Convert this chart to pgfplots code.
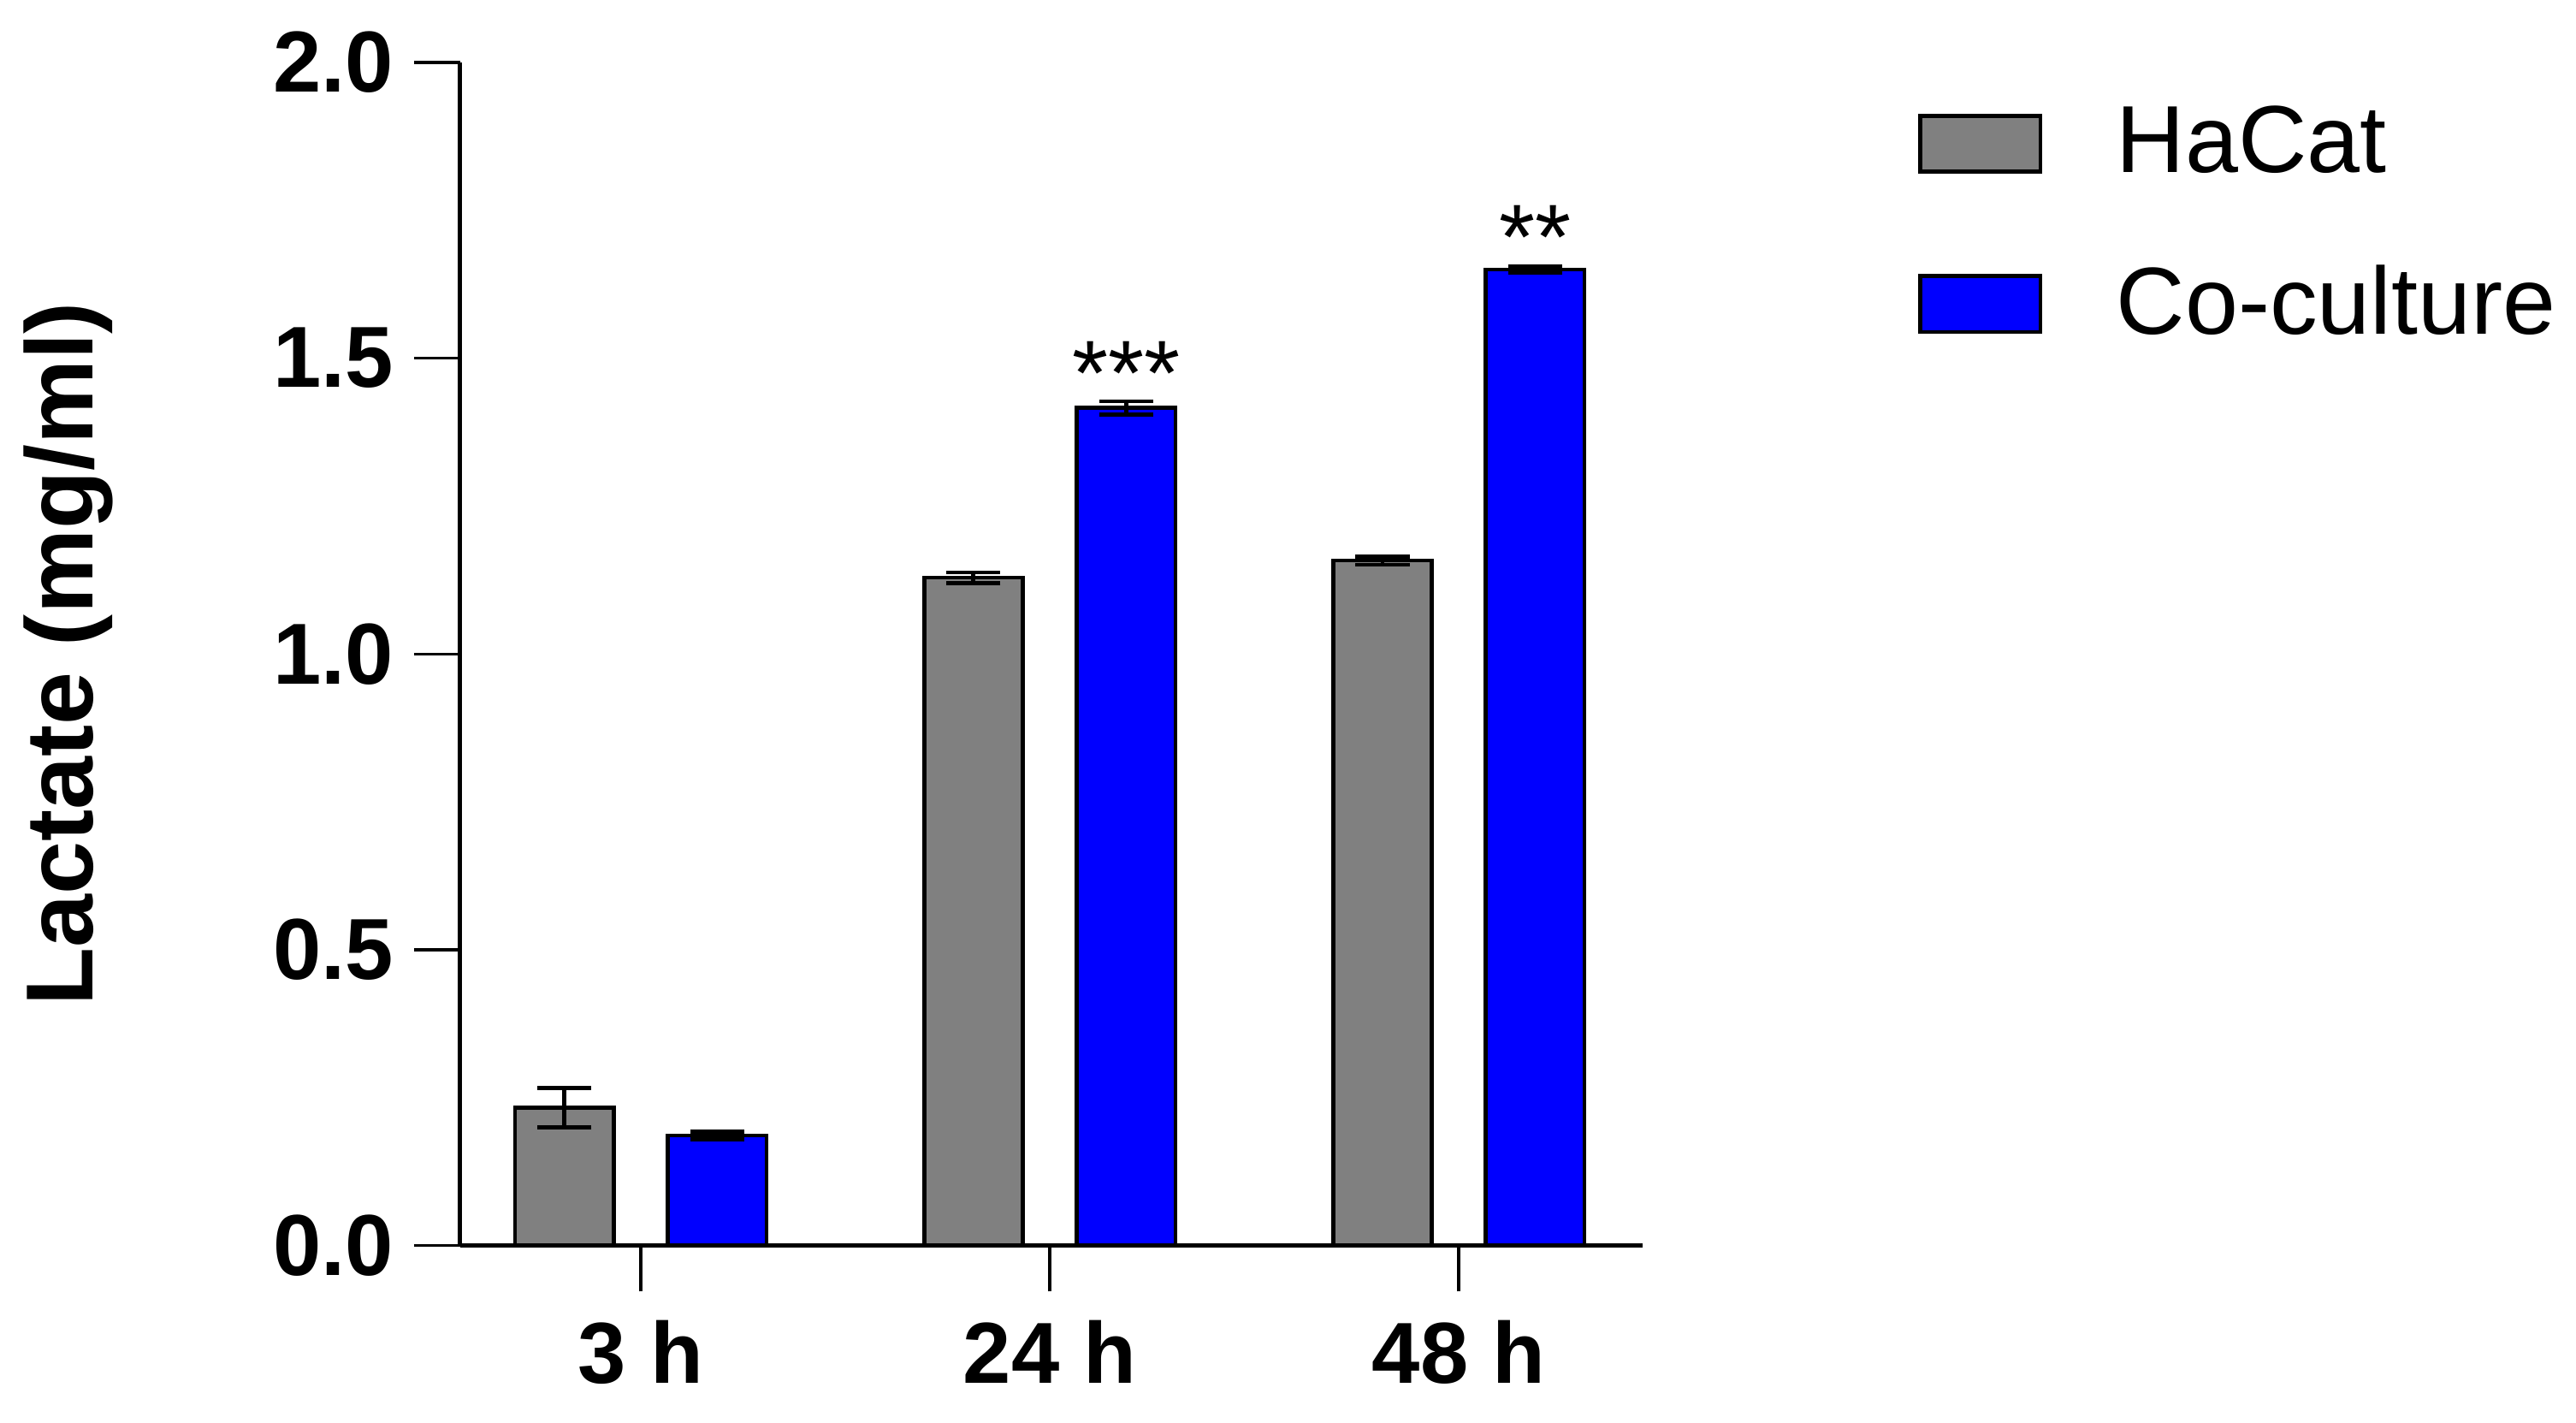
\documentclass[border=0pt]{standalone}
\usepackage{fontspec}
\setmainfont{Liberation Sans}
\usepackage{pgfplots}
\pgfplotsset{compat=1.18}
\definecolor{hacat}{HTML}{808080}
\definecolor{cocult}{HTML}{0000FF}

\begin{document}
\begin{tikzpicture}
\path[use as bounding box] (-2.80cm,-1.08cm) rectangle (12.88cm,7.58cm);
\begin{axis}[
  at={(0,0)}, anchor=south west,
  width=7.2cm, height=7.2cm, scale only axis,
  ybar=0.33cm, bar width=0.6cm,
  xmin=-0.442, xmax=2.45, ymin=0, ymax=2,
  axis x line*=bottom, axis y line*=left,
  axis line style={line width=0.8pt, -},
  tick align=outside, major tick length=0.28cm,
  tick style={black, line width=0.5pt},
  minor tick num=0,
  xtick={0,1,2}, xticklabels={3 h,24 h,48 h},
  ytick={0,0.5,1,1.5,2},
  /pgf/number format/assume math mode=true,
  yticklabel style={/pgf/number format/.cd, fixed, fixed zerofill, precision=1, /tikz/.cd},
  tick label style={font=\bfseries\fontsize{15}{18}\selectfont},
  xticklabel style={yshift=-0.05cm},
  ylabel={Lactate (mg/ml)},
  ylabel style={font=\bfseries\fontsize{16.5}{20}\selectfont, at={(axis description cs:-0.331,0.5)}, anchor=center},
  legend style={at={(axis description cs:1.232,0.964)}, anchor=north west, draw=none, fill=none,
    inner sep=0pt, font=\fontsize{16.5}{20}\selectfont, nodes={inner sep=0pt},
    column sep=0.45cm, row sep=0.51cm},
  legend cell align=left,
  legend image code/.code={\draw[#1] (0cm,-0.17cm) rectangle (0.73cm,0.17cm);},
]
\addplot[fill=hacat, draw=black, line width=0.7pt,
  error bars/.cd, y dir=both, y explicit,
  error bar style={line width=0.7pt, black},
  error mark options={rotate=90, mark size=0.165cm, line width=0.7pt, black}]
  coordinates {(0,0.233) +- (0,0.033) (1,1.129) +- (0,0.009) (2,1.158) +- (0,0.007)};
\addplot[fill=cocult, draw=black, line width=0.7pt,
  error bars/.cd, y dir=both, y explicit,
  error bar style={line width=0.7pt, black},
  error mark options={rotate=90, mark size=0.165cm, line width=0.7pt, black}]
  coordinates {(0,0.186) +- (0,0.007) (1,1.416) +- (0,0.011) (2,1.650) +- (0,0.005)};
\legend{HaCat, Co-culture}
\node[font=\fontsize{16}{19}\selectfont, xshift=0.465cm] at (axis cs:1,1.475) {***};
\node[font=\fontsize{16}{19}\selectfont, xshift=0.465cm] at (axis cs:2,1.705) {**};
\end{axis}
\end{tikzpicture}
\end{document}
